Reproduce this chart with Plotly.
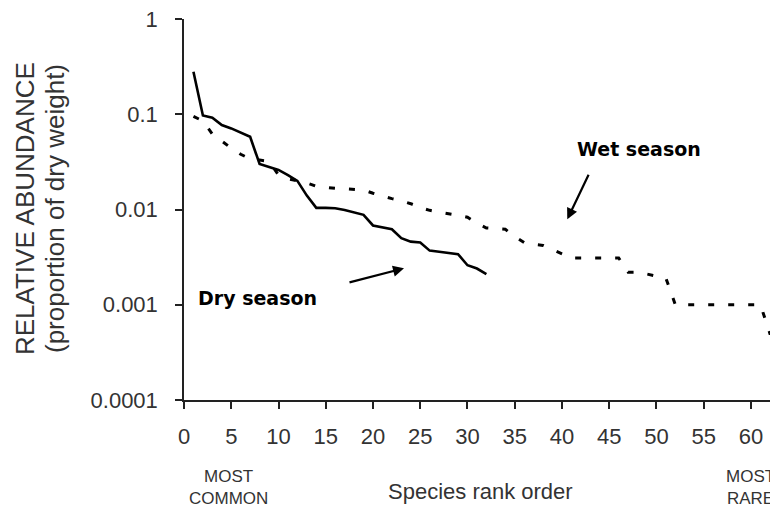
import plotly.graph_objects as go

# ---- data ----
dry_rank = list(range(1, 33))
dry_abund = [0.28, 0.097, 0.092, 0.077, 0.071, 0.064, 0.058, 0.030, 0.028, 0.026,
             0.023, 0.020, 0.014, 0.0104, 0.0104, 0.0103, 0.0099, 0.0093, 0.0088, 0.0068,
             0.0065, 0.0062, 0.0050, 0.0046, 0.0045, 0.0037, 0.0036, 0.0035, 0.0034, 0.0026,
             0.0024, 0.0021]

wet_rank = list(range(1, 64))
wet_abund = [0.095, 0.085, 0.062, 0.052, 0.044, 0.038, 0.034, 0.033, 0.032, 0.023,
             0.021, 0.020, 0.019, 0.0175, 0.017, 0.0167, 0.0165, 0.0162, 0.016, 0.0148,
             0.0138, 0.013, 0.0123, 0.0115, 0.0105, 0.0098, 0.0094, 0.0091, 0.0087, 0.0083,
             0.0072, 0.0064, 0.0063, 0.0062, 0.0052, 0.0045, 0.0043, 0.0042, 0.0038, 0.0034,
             0.0031, 0.0031, 0.0031, 0.0031, 0.0031, 0.0031, 0.0022, 0.0022, 0.0021, 0.0020,
             0.0019, 0.001, 0.001, 0.001, 0.001, 0.001, 0.001, 0.001, 0.001, 0.001,
             0.001, 0.0005, 0.0005]

x_ticks = list(range(0, 61, 5))
y_ticks = [0.0001, 0.001, 0.01, 0.1, 1]
y_ticktext = ["0.0001", "0.001", "0.01", "0.1", "1"]

FONT = "Liberation Sans, Arial, sans-serif"
INK = "#222222"

fig = go.Figure()
fig.add_trace(go.Scatter(x=wet_rank, y=wet_abund, mode="lines",
                         line=dict(color="black", width=3, dash="6px,14px"),
                         name="Wet season", showlegend=False))
fig.add_trace(go.Scatter(x=dry_rank, y=dry_abund, mode="lines",
                         line=dict(color="black", width=2.6),
                         name="Dry season", showlegend=False))

# the page body adds an 8px offset; compensate in the figure size/margins
fig.update_layout(
    width=770, height=501,
    margin=dict(l=176, r=0, t=11, b=109, autoexpand=False),
    paper_bgcolor="white", plot_bgcolor="white",
    font=dict(family=FONT, color=INK),
    xaxis=dict(range=[0, 62.86], tickvals=x_ticks, showgrid=False, zeroline=False,
               showline=True, linecolor=INK, linewidth=1.5, automargin=False,
               ticks="outside", ticklen=7, tickwidth=1.5, tickcolor=INK,
               tickfont=dict(size=22, family=FONT, color="#333"),
               ticklabelstandoff=9, ticklabeloverflow="allow"),
    yaxis=dict(type="log", range=[-4, 0], tickvals=y_ticks, ticktext=y_ticktext,
               showgrid=False, zeroline=False, automargin=False,
               showline=True, linecolor=INK, linewidth=1.5,
               ticks="outside", ticklen=7, tickwidth=1.5, tickcolor=INK,
               tickfont=dict(size=22, family=FONT, color="#333"),
               ticklabelstandoff=13, ticklabeloverflow="allow"),
)

# helpers converting target screen pixels to paper coordinates of the plot area
def px_x(p):
    return (p - 184) / 594.0

def px_y(p):
    return (400 - p) / 381.0

ann = []
ann.append(dict(text="RELATIVE ABUNDANCE", x=px_x(25), y=px_y(209), xref="paper", yref="paper",
                textangle=-90, showarrow=False, xanchor="center", yanchor="middle",
                font=dict(size=26, family=FONT, color="#333")))
ann.append(dict(text="(proportion of dry weight)", x=px_x(55), y=px_y(209), xref="paper", yref="paper",
                textangle=-90, showarrow=False, xanchor="center", yanchor="middle",
                font=dict(size=26, family=FONT, color="#333")))
ann.append(dict(text="MOST<br>COMMON", x=px_x(228), y=px_y(487), xref="paper", yref="paper",
                showarrow=False, xanchor="center", yanchor="middle", align="center",
                font=dict(size=17, family=FONT, color="#333")))
ann.append(dict(text="MOST<br>RARE", x=px_x(750), y=px_y(487), xref="paper", yref="paper",
                showarrow=False, xanchor="center", yanchor="middle", align="center",
                font=dict(size=17, family=FONT, color="#333")))
ann.append(dict(text="Species rank order", x=px_x(480), y=px_y(491), xref="paper", yref="paper",
                showarrow=False, xanchor="center", yanchor="middle",
                font=dict(size=22, family=FONT, color="#333")))
ann.append(dict(text="<b>Wet season</b>", x=px_x(639), y=px_y(149), xref="paper", yref="paper",
                showarrow=False, xanchor="center", yanchor="middle",
                font=dict(size=19, family="DejaVu Sans", color="black")))
ann.append(dict(text="<b>Dry season</b>", x=px_x(257.5), y=px_y(298), xref="paper", yref="paper",
                showarrow=False, xanchor="center", yanchor="middle",
                font=dict(size=19, family="DejaVu Sans", color="black")))
ann.append(dict(text="", x=px_x(567.3), y=px_y(219.3), xref="paper", yref="paper",
                showarrow=True, ax=22, ay=-46, arrowhead=2, arrowsize=1, arrowwidth=2.2,
                arrowcolor="black", standoff=0))
ann.append(dict(text="", x=px_x(404), y=px_y(268.3), xref="paper", yref="paper",
                showarrow=True, ax=-56, ay=14.5, arrowhead=2, arrowsize=1, arrowwidth=2.2,
                arrowcolor="black", standoff=0))
fig.update_layout(annotations=ann)

fig.write_html("out.html")
